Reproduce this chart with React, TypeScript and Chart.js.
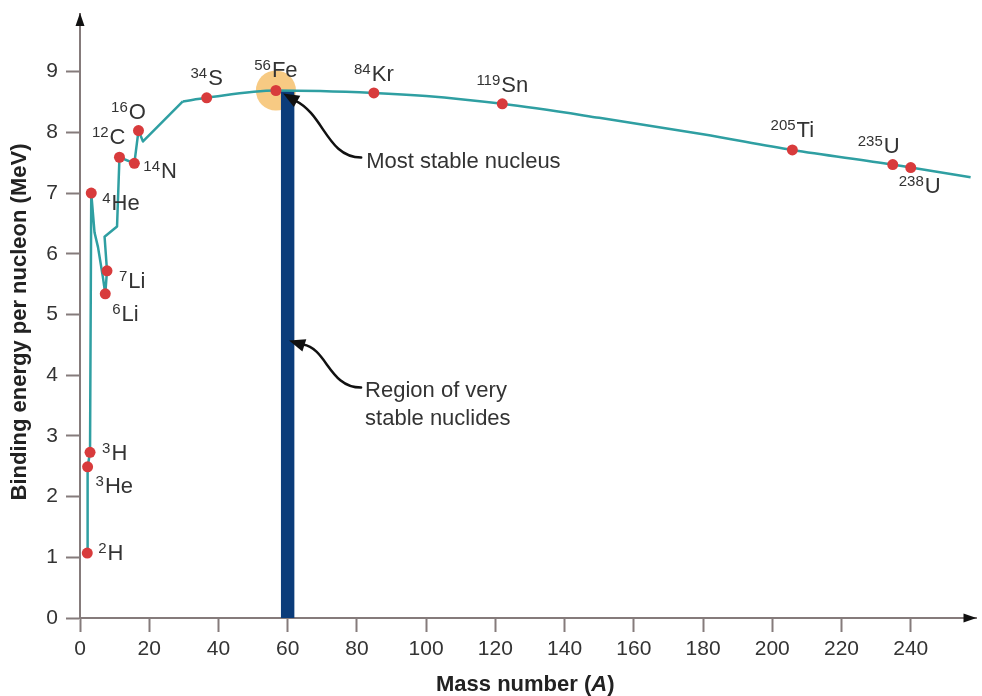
import React, { useEffect, useRef } from "react";
import { Chart, registerables } from "chart.js";

Chart.register(...registerables);

// ---------- data ----------
const xTickValues = [0, 20, 40, 60, 80, 100, 120, 140, 160, 180, 200, 220, 240];
const yTickValues = [0, 1, 2, 3, 4, 5, 6, 7, 8, 9];
const X_MAX = 259;
const Y_MAX = 9.95;

// binding-energy curve (mass number, MeV per nucleon)
// light nuclei: jagged part of the curve
const lightCurveMass = [2.1, 2.2, 2.9, 3.25, 4.2, 5.2, 6.6, 7.3, 7.8, 7.1, 10.7, 11.4, 15.7, 16.9, 18.2, 29.7];
const lightCurveEnergy = [1.07, 2.49, 2.73, 7.0, 6.35, 6.11, 5.62, 5.34, 5.72, 6.28, 6.45, 7.59, 7.49, 8.03, 7.85, 8.51];
// heavier nuclei: smooth part of the curve
const heavyCurveMass = [29.7, 36.6, 56.6, 84.9, 100, 122, 150, 180, 205.8, 234.8, 240, 257.3];
const heavyCurveEnergy = [8.51, 8.57, 8.69, 8.65, 8.6, 8.47, 8.24, 7.97, 7.71, 7.47, 7.42, 7.26];

// marked nuclides
const nuclideMassNumber = ["2", "3", "3", "4", "6", "7", "12", "14", "16", "34", "56", "84", "119", "205", "235", "238"];
const nuclideSymbol = ["H", "He", "H", "He", "Li", "Li", "C", "N", "O", "S", "Fe", "Kr", "Sn", "Ti", "U", "U"];
const nuclideMass = [2.1, 2.2, 2.9, 3.25, 7.3, 7.8, 11.4, 15.7, 16.9, 36.6, 56.6, 84.9, 122, 205.8, 234.8, 240];
const nuclideEnergy = [1.07, 2.49, 2.73, 7.0, 5.34, 5.72, 7.59, 7.49, 8.03, 8.57, 8.69, 8.65, 8.47, 7.71, 7.47, 7.42];
const mostStableIndex = 10;

// region of very stable nuclides
const stableRegionMass = [58, 62];
const stableRegionTop = 8.68;

// annotation texts and the points their arrows indicate (data coordinates)
const mostStableText = ["Most stable nucleus"];
const mostStableTip = { mass: 58.7, energy: 8.64 };
const regionText = ["Region of very", "stable nuclides"];
const regionTip = { mass: 60.4, energy: 4.57 };

const xTitleParts = ["Mass number (", "A", ")"];
const yTitle = "Binding energy per nucleon (MeV)";

// ---------- styles ----------
const FONT = "'Liberation Sans', Arial, Helvetica, sans-serif";
const AXIS_COLOR = "#857b7b";
const TEXT_COLOR = "#333333";
const CURVE_COLOR = "#2f9fa2";
const DOT_COLOR = "#d83b3c";
const BAR_COLOR = "#0b3c7a";
const HALO_COLOR = "rgba(246, 196, 118, 0.9)";

type Align = "left" | "center" | "right";
const labelPlacement: { dx: number; dy: number; align: Align }[] = [
  { dx: 11, dy: 7, align: "left" },
  { dx: 8, dy: 26, align: "left" },
  { dx: 12, dy: 8, align: "left" },
  { dx: 11, dy: 17, align: "left" },
  { dx: 7, dy: 27, align: "left" },
  { dx: 12, dy: 17, align: "left" },
  { dx: 6, dy: -13, align: "right" },
  { dx: 9, dy: 15, align: "left" },
  { dx: -10, dy: -12, align: "center" },
  { dx: 0, dy: -13, align: "center" },
  { dx: 0, dy: -13, align: "center" },
  { dx: 0, dy: -12, align: "center" },
  { dx: 0, dy: -12, align: "center" },
  { dx: 0, dy: -13, align: "center" },
  { dx: -14, dy: -12, align: "center" },
  { dx: 9, dy: 25, align: "center" },
];

const SUP_SIZE = 15;
const MAIN_SIZE = 22;

function drawSupLabel(ctx: CanvasRenderingContext2D, x: number, y: number, sup: string, main: string, align: Align) {
  ctx.font = `${SUP_SIZE}px ${FONT}`;
  const sw = ctx.measureText(sup).width;
  ctx.font = `${MAIN_SIZE}px ${FONT}`;
  const mw = ctx.measureText(main).width;
  const total = sw + 1 + mw;
  let sx = x;
  if (align === "center") sx = x - total / 2;
  else if (align === "right") sx = x - total;
  ctx.textAlign = "left";
  ctx.textBaseline = "alphabetic";
  ctx.fillStyle = TEXT_COLOR;
  ctx.font = `${SUP_SIZE}px ${FONT}`;
  ctx.fillText(sup, sx, y - 7);
  ctx.font = `${MAIN_SIZE}px ${FONT}`;
  ctx.fillText(main, sx + sw + 1, y);
}

function arrowHead(ctx: CanvasRenderingContext2D, tx: number, ty: number, fx: number, fy: number, len: number, half: number) {
  const a = Math.atan2(ty - fy, tx - fx);
  const bx = tx - Math.cos(a) * len;
  const by = ty - Math.sin(a) * len;
  ctx.beginPath();
  ctx.moveTo(tx, ty);
  ctx.lineTo(bx + Math.sin(a) * half, by - Math.cos(a) * half);
  ctx.lineTo(bx - Math.sin(a) * half, by + Math.cos(a) * half);
  ctx.closePath();
  ctx.fill();
}

function drawCallout(
  ctx: CanvasRenderingContext2D,
  tx: number,
  ty: number,
  path: number[],
  textPos: { dx: number; dy: number },
  lines: string[]
) {
  // path: [bx,by, c1x,c1y, c2x,c2y, ex,ey] offsets from the tip
  ctx.save();
  ctx.strokeStyle = "#111";
  ctx.fillStyle = "#111";
  ctx.lineWidth = 2.5;
  ctx.lineCap = "round";
  ctx.beginPath();
  ctx.moveTo(tx + path[0], ty + path[1]);
  ctx.bezierCurveTo(tx + path[2], ty + path[3], tx + path[4], ty + path[5], tx + path[6], ty + path[7]);
  ctx.stroke();
  arrowHead(ctx, tx, ty, tx + path[0] + 2, ty + path[1] + 1, 16, 6.5);
  ctx.fillStyle = TEXT_COLOR;
  ctx.font = `22px ${FONT}`;
  ctx.textAlign = "left";
  ctx.textBaseline = "alphabetic";
  lines.forEach((l, i) => ctx.fillText(l, tx + textPos.dx, ty + textPos.dy + i * 28));
  ctx.restore();
}

const decorPlugin = {
  id: "decor",
  beforeDatasetsDraw(chart: any) {
    const { ctx } = chart;
    const xs = chart.scales.x;
    const ys = chart.scales.y;
    const px = xs.getPixelForValue(nuclideMass[mostStableIndex]);
    const py = ys.getPixelForValue(nuclideEnergy[mostStableIndex]);
    ctx.save();
    ctx.fillStyle = HALO_COLOR;
    ctx.beginPath();
    ctx.arc(px, py, 20, 0, Math.PI * 2);
    ctx.fill();
    ctx.restore();
  },
  afterDatasetsDraw(chart: any) {
    const { ctx, chartArea } = chart;
    const xs = chart.scales.x;
    const ys = chart.scales.y;
    ctx.save();

    // nuclide labels
    nuclideMass.forEach((m, i) => {
      const px = xs.getPixelForValue(m);
      const py = ys.getPixelForValue(nuclideEnergy[i]);
      const p = labelPlacement[i];
      drawSupLabel(ctx, px + p.dx, py + p.dy, nuclideMassNumber[i], nuclideSymbol[i], p.align);
    });

    // callouts
    drawCallout(
      ctx,
      xs.getPixelForValue(mostStableTip.mass),
      ys.getPixelForValue(mostStableTip.energy),
      [12, 7, 41, 21, 44, 64, 78, 64],
      { dx: 83, dy: 74 },
      mostStableText
    );
    drawCallout(
      ctx,
      xs.getPixelForValue(regionTip.mass),
      ys.getPixelForValue(regionTip.energy),
      [14, 4, 38, 8, 40, 47, 72, 47],
      { dx: 76, dy: 56 },
      regionText
    );

    // axis arrowheads
    ctx.fillStyle = "#111";
    const left = chartArea.left;
    const top = chartArea.top - 1;
    ctx.beginPath();
    ctx.moveTo(left, top);
    ctx.lineTo(left - 4.5, top + 13);
    ctx.lineTo(left + 4.5, top + 13);
    ctx.closePath();
    ctx.fill();
    const right = chartArea.right;
    const bottom = chartArea.bottom;
    ctx.beginPath();
    ctx.moveTo(right, bottom);
    ctx.lineTo(right - 13, bottom - 4.5);
    ctx.lineTo(right - 13, bottom + 4.5);
    ctx.closePath();
    ctx.fill();

    // axis titles
    ctx.fillStyle = "#222";
    ctx.textBaseline = "alphabetic";
    const fonts = [`bold 22px ${FONT}`, `italic bold 22px ${FONT}`, `bold 22px ${FONT}`];
    const widths = xTitleParts.map((t, i) => {
      ctx.font = fonts[i];
      return ctx.measureText(t).width;
    });
    const totalW = widths.reduce((a, b) => a + b, 0);
    let cx = (chartArea.left + chartArea.right) / 2 - 3 - totalW / 2;
    ctx.textAlign = "left";
    xTitleParts.forEach((t, i) => {
      ctx.font = fonts[i];
      ctx.fillText(t, cx, 691);
      cx += widths[i];
    });

    ctx.translate(26, (chartArea.top + chartArea.bottom) / 2 + 6);
    ctx.rotate(-Math.PI / 2);
    ctx.font = `bold 22px ${FONT}`;
    ctx.textAlign = "center";
    ctx.fillText(yTitle, 0, 0);
    ctx.restore();
  },
};

export default function App() {
  const canvasRef = useRef<HTMLCanvasElement | null>(null);

  useEffect(() => {
    const canvas = canvasRef.current;
    if (!canvas) return;

    const lightPoints = lightCurveMass.map((m, i) => ({ x: m, y: lightCurveEnergy[i] }));
    const heavyPoints = heavyCurveMass.map((m, i) => ({ x: m, y: heavyCurveEnergy[i] }));
    const nuclidePoints = nuclideMass.map((m, i) => ({ x: m, y: nuclideEnergy[i] }));
    const regionPoints = stableRegionMass.map((m) => ({ x: m, y: stableRegionTop }));

    const tickFont = { family: FONT, size: 21 };

    const chart = new Chart(canvas, {
      type: "line",
      data: {
        datasets: [
          {
            type: "scatter",
            label: "nuclides",
            data: nuclidePoints,
            pointRadius: 5.5,
            pointBackgroundColor: DOT_COLOR,
            pointBorderWidth: 0,
            showLine: false,
            order: 0,
          } as any,
          {
            label: "curve (light)",
            data: lightPoints,
            borderColor: CURVE_COLOR,
            borderWidth: 2.5,
            borderJoinStyle: "round",
            pointRadius: 0,
            tension: 0,
            fill: false,
            order: 1,
          },
          {
            label: "curve (heavy)",
            data: heavyPoints,
            borderColor: CURVE_COLOR,
            borderWidth: 2.5,
            pointRadius: 0,
            cubicInterpolationMode: "monotone",
            fill: false,
            order: 1,
          },
          {
            label: "stable region",
            data: regionPoints,
            borderWidth: 0,
            borderColor: "rgba(0,0,0,0)",
            pointRadius: 0,
            fill: "origin",
            backgroundColor: BAR_COLOR,
            order: 2,
          },
        ],
      },
      options: {
        animation: false,
        responsive: false,
        events: [],
        layout: { padding: { left: 0, right: 2, top: 14, bottom: 0 } },
        plugins: {
          legend: { display: false },
          tooltip: { enabled: false },
          title: { display: false },
        },
        scales: {
          x: {
            type: "linear",
            min: 0,
            max: X_MAX,
            afterBuildTicks: (s: any) => {
              s.ticks = xTickValues.map((v) => ({ value: v }));
            },
            afterFit: (s: any) => {
              s.height = 78;
              s.paddingLeft = 0;
              s.paddingRight = 0;
            },
            grid: {
              drawOnChartArea: false,
              drawTicks: true,
              tickLength: 14,
              tickWidth: 2,
              tickColor: AXIS_COLOR,
            },
            border: { display: true, color: AXIS_COLOR, width: 2 },
            ticks: {
              font: tickFont,
              color: TEXT_COLOR,
              padding: 5,
              maxRotation: 0,
              autoSkip: false,
            },
          },
          y: {
            type: "linear",
            min: 0,
            max: Y_MAX,
            afterBuildTicks: (s: any) => {
              s.ticks = yTickValues.map((v) => ({ value: v }));
            },
            afterFit: (s: any) => {
              s.width = 80;
              s.paddingTop = 0;
              s.paddingBottom = 0;
            },
            grid: {
              drawOnChartArea: false,
              drawTicks: true,
              tickLength: 14,
              tickWidth: 2,
              tickColor: AXIS_COLOR,
            },
            border: { display: true, color: AXIS_COLOR, width: 2 },
            ticks: {
              font: tickFont,
              color: TEXT_COLOR,
              padding: 8,
              autoSkip: false,
            },
          },
        },
      } as any,
      plugins: [decorPlugin],
    });

    return () => chart.destroy();
  }, []);

  return (
    <div style={{ position: "fixed", left: 0, top: 0, width: 982, height: 696, background: "#ffffff" }}>
      <canvas ref={canvasRef} width={982} height={696} style={{ display: "block" }} />
    </div>
  );
}
